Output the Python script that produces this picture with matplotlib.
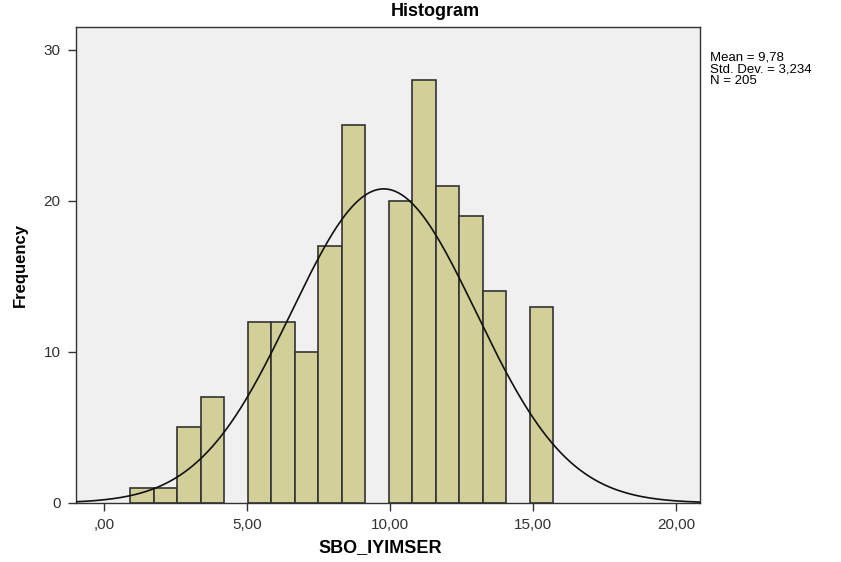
import numpy as np
import matplotlib
import matplotlib.pyplot as plt

matplotlib.use('Agg')

# histogram bins (18 equal-width bins)
bin_start = 0.91
bin_width = 0.822
counts = [1, 1, 5, 7, 0, 12, 12, 10, 17, 25, 0, 20, 28, 21, 19, 14, 0, 13]

mean = 9.78
std_dev = 3.234
n_obs = 205

x_ticks = [0, 5, 10, 15, 20]
x_tick_labels = [',00', '5,00', '10,00', '15,00', '20,00']
y_ticks = [0, 10, 20, 30]

plt.rcParams['font.family'] = ['Liberation Sans', 'DejaVu Sans']

fig = plt.figure(figsize=(8.41, 5.62), dpi=100)
fig.patch.set_facecolor('white')
ax = fig.add_axes([76 / 841, 1 - 503 / 562, 624 / 841, 476 / 562])
ax.set_facecolor('#f0f0f0')

edges = bin_start + bin_width * np.arange(len(counts) + 1)
lefts = edges[:-1]
for left, c in zip(lefts, counts):
    if c > 0:
        ax.bar(left, c, width=bin_width, align='edge', color='#d3cf98',
               edgecolor='#333333', linewidth=1.2, zorder=2)

# fitted normal curve, scaled to counts
xs = np.linspace(-1, 21, 400)
scale = n_obs * bin_width / (std_dev * np.sqrt(2 * np.pi))
ys = scale * np.exp(-0.5 * ((xs - mean) / std_dev) ** 2)
ax.plot(xs, ys, color='#111111', linewidth=1.2, zorder=3)

ax.set_xlim(-0.98, 20.84)
ax.set_ylim(0, 31.5)
ax.set_xticks(x_ticks)
ax.set_xticklabels(x_tick_labels)
ax.set_yticks(y_ticks)
ax.tick_params(direction='out', length=6, width=1, colors='#333333',
               labelsize=11, labelcolor='#333333', pad=5)
for sp in ax.spines.values():
    sp.set_color('#333333')
    sp.set_linewidth(1)

fig.text(380 / 841, 1 - 548 / 562, 'SBO_IYIMSER', fontsize=13,
         fontweight='bold', ha='center', va='center')
fig.text(20 / 841, 1 - 265 / 562, 'Frequency', fontsize=12,
         fontweight='bold', ha='center', va='center', rotation=90)

fig.text(435 / 841, 1 - 12 / 562, 'Histogram', fontsize=13, fontweight='bold',
         ha='center', va='center')
fig.text(710 / 841, 1 - 51 / 562,
         'Mean = 9,78\nStd. Dev. = 3,234\nN = 205',
         fontsize=9.5, ha='left', va='top', linespacing=1.0)

fig.savefig('out.png', dpi=100)
